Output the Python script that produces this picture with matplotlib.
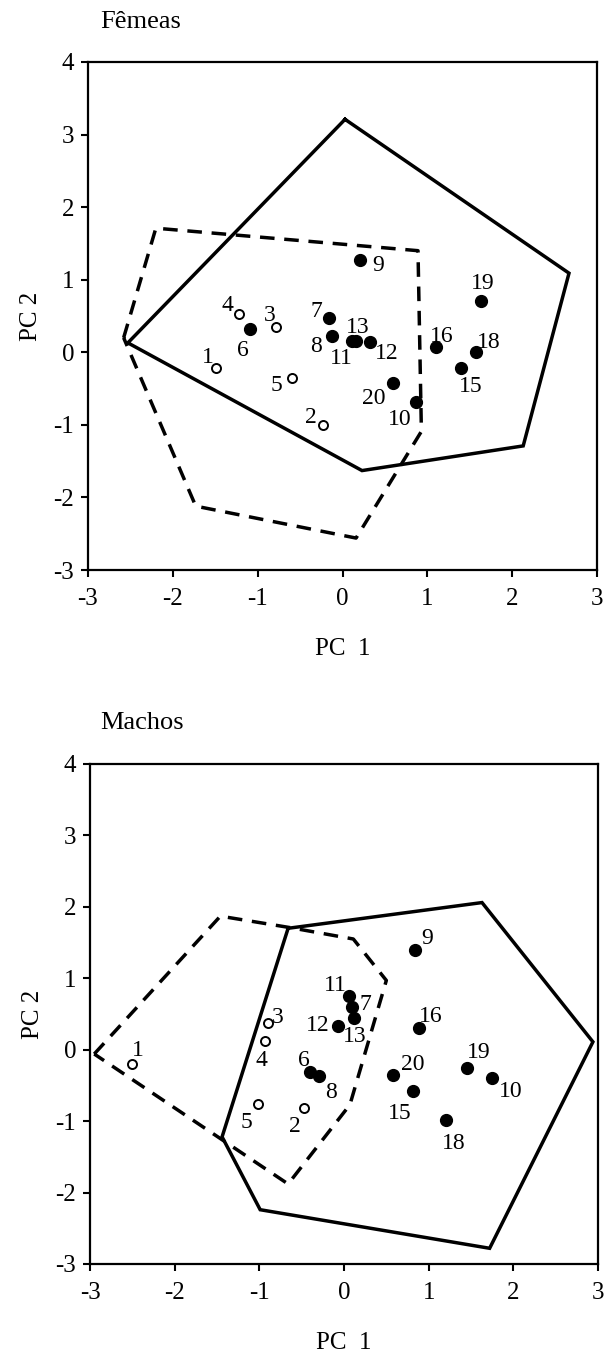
import matplotlib
matplotlib.use('Agg')
import matplotlib.pyplot as plt

plt.rcParams['font.family'] = ['Liberation Serif', 'DejaVu Serif']
plt.rcParams['axes.unicode_minus'] = False

# Femeas (top panel)
f_labels = ['1', '2', '3', '4', '5', '6', '7', '8', '9', '10', '11', '12',
            '13', '15', '16', '18', '19', '20']
f_x = [-1.49, -0.23, -0.78, -1.22, -0.60, -1.09, -0.16, -0.12, 0.21, 0.87,
       0.11, 0.32, 0.16, 1.40, 1.10, 1.57, 1.63, 0.60]
f_y = [-0.21, -1.00, 0.35, 0.53, -0.36, 0.32, 0.47, 0.22, 1.27, -0.68,
       0.15, 0.14, 0.15, -0.21, 0.07, 0.00, 0.71, -0.43]
f_open = ['1', '2', '3', '4', '5']
f_dx = [-8, -12, -7, -12, -15, -7, -13, -16, 18, -17, -10, 17, 2, 9, 6, 13, 2, -20]
f_dy = [10, 7, 11, 8, -7, -21, 7, -10, -5, -18, -17, -11, 14, -19, 11, 10, 17, -15]

f_solid_x = [0.03, 2.67, 2.13, 0.23, -2.53, 0.03]
f_solid_y = [3.21, 1.09, -1.29, -1.63, 0.13, 3.21]
f_dash_x = [-2.58, -2.20, 0.89, 0.93, 0.16, -1.73, -2.58]
f_dash_y = [0.20, 1.71, 1.40, -1.09, -2.56, -2.12, 0.20]

# Machos (bottom panel)
m_labels = ['1', '2', '3', '4', '5', '6', '7', '8', '9', '10', '11', '12',
            '13', '15', '16', '18', '19', '20']
m_x = [-2.50, -0.47, -0.90, -0.93, -1.02, -0.40, 0.09, -0.29, 0.84, 1.75,
       0.06, -0.07, 0.12, 0.81, 0.89, 1.21, 1.45, 0.58]
m_y = [-0.20, -0.81, 0.38, 0.12, -0.76, -0.31, 0.60, -0.37, 1.40, -0.40,
       0.75, 0.33, 0.45, -0.58, 0.31, -0.98, -0.25, -0.35]
m_open = ['1', '2', '3', '4', '5']
m_dx = [6, -9, 10, -4, -11, -6, 14, 12, 12, 19, -14, -20, 1, -13, 11, 7, 12, 20]
m_dy = [13, -19, 5, -19, -19, 11, 2, -16, 11, -13, 11, 1, -19, -22, 11, -24, 15, 10]

m_solid_x = [-0.66, 1.63, 2.94, 1.72, -0.99, -1.44, -0.66]
m_solid_y = [1.70, 2.06, 0.11, -2.78, -2.24, -1.22, 1.70]
m_dash_x = [-2.95, -1.46, -0.64, 0.11, 0.50, 0.07, -0.66, -2.95]
m_dash_y = [-0.06, 1.87, 1.71, 1.55, 0.97, -0.77, -1.88, -0.06]

W, H = 606, 1355
fig = plt.figure(figsize=(W / 100, H / 100), dpi=100)


def draw_panel(ax, labels, xs, ys, opens, dxs, dys, sx, sy, dx_, dy_):
    ax.plot(sx, sy, color='black', lw=2.5, solid_joinstyle='miter')
    ax.plot(dx_, dy_, color='black', lw=2.5, linestyle=(0, (4.2, 2.8)))
    for lab, x, y, ox, oy in zip(labels, xs, ys, dxs, dys):
        if lab in opens:
            ax.plot(x, y, 'o', ms=6.5, mfc='white', mec='black', mew=1.4)
        else:
            ax.plot(x, y, 'o', ms=8.5, color='black')
        ax.annotate(lab, (x, y), xytext=(ox, oy), textcoords='offset pixels',
                    ha='center', va='center', fontsize=17)
    ax.set_xlim(-3, 3)
    ax.set_ylim(-3, 4)
    ax.set_xticks([-3, -2, -1, 0, 1, 2, 3])
    ax.set_yticks([-3, -2, -1, 0, 1, 2, 3, 4])
    ax.tick_params(direction='out', length=5, width=1.5, labelsize=18)
    ax.tick_params(axis='x', pad=8)
    ax.tick_params(axis='y', pad=5)
    for s in ax.spines.values():
        s.set_linewidth(1.6)
    ax.set_xlabel('PC  1', fontsize=18, labelpad=20)
    ax.set_ylabel('PC 2', fontsize=18, labelpad=8)


ax1 = fig.add_axes([88 / W, 1 - 570 / H, 509 / W, 508 / H])
draw_panel(ax1, f_labels, f_x, f_y, f_open, f_dx, f_dy,
           f_solid_x, f_solid_y, f_dash_x, f_dash_y)
fig.text(100 / W, 1 - 22 / H, 'Fêmeas', fontsize=19, va='center', ha='left')

ax2 = fig.add_axes([90 / W, 1 - 1264 / H, 508 / W, 500 / H])
draw_panel(ax2, m_labels, m_x, m_y, m_open, m_dx, m_dy,
           m_solid_x, m_solid_y, m_dash_x, m_dash_y)
fig.text(100 / W, 1 - 723 / H, 'Machos', fontsize=19, va='center', ha='left')

fig.savefig('out.png', dpi=100)
